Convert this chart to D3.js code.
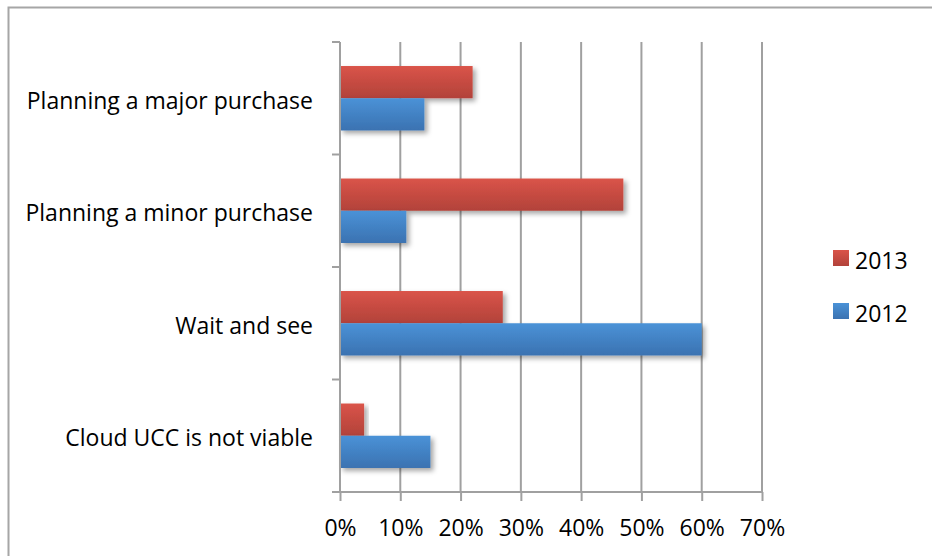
<!DOCTYPE html>
<html>
<head>
<meta charset="utf-8">
<script src="https://cdn.jsdelivr.net/npm/d3@7"></script>
<style>
  body { margin: 0; background: #fff; }
  svg text { font-family: "Open Sans", sans-serif; fill: #000; }
</style>
</head>
<body>
<div id="chart"></div>
<script>
const categories = ["Planning a major purchase", "Planning a minor purchase", "Wait and see", "Cloud UCC is not viable"];
const seriesNames = ["2013", "2012"];
const values2013 = [0.22, 0.47, 0.27, 0.04];
const values2012 = [0.14, 0.11, 0.60, 0.15];
const xTicks = [0, 0.1, 0.2, 0.3, 0.4, 0.5, 0.6, 0.7];

const W = 932, H = 556;
const plot = { left: 340, right: 762, top: 42, bottom: 492 };

const svg = d3.select("#chart").append("svg")
    .attr("width", W)
    .attr("height", H);

// outer frame
svg.append("rect")
    .attr("x", 8.5).attr("y", 7.5)
    .attr("width", W).attr("height", H)
    .attr("fill", "none")
    .attr("stroke", "#a6a6a6")
    .attr("stroke-width", 2);

const x = d3.scaleLinear().domain([0, 0.7]).range([plot.left, plot.right]);
const y = d3.scaleBand().domain(categories).range([plot.top, plot.bottom])
    .paddingInner(0.427).paddingOuter(0.2135);
const ySub = d3.scaleBand().domain(seriesNames).range([0, y.bandwidth()]);

const colors = {
    "2013": ["#da5449", "#b2423a"],
    "2012": ["#4a92d7", "#3b72b1"]
};

const defs = svg.append("defs");
seriesNames.forEach(s => {
    const g = defs.append("linearGradient")
        .attr("id", "grad" + s)
        .attr("x1", 0).attr("y1", 0).attr("x2", 0).attr("y2", 1);
    g.append("stop").attr("offset", 0).attr("stop-color", colors[s][0]);
    g.append("stop").attr("offset", 1).attr("stop-color", colors[s][1]);
});
defs.append("filter")
    .attr("id", "shadow")
    .attr("x", "-10%").attr("y", "-20%").attr("width", "130%").attr("height", "160%")
    .append("feDropShadow")
    .attr("dx", 3).attr("dy", 3)
    .attr("stdDeviation", 2.5)
    .attr("flood-color", "#000")
    .attr("flood-opacity", 0.35);

// gridlines
svg.append("g")
    .selectAll("line")
    .data(xTicks.slice(1))
    .join("line")
    .attr("x1", d => x(d)).attr("x2", d => x(d))
    .attr("y1", plot.top).attr("y2", plot.bottom)
    .attr("stroke", "#a0a0a0")
    .attr("stroke-width", 2);

// bars
const rows = categories.map((c, i) => ({ cat: c, vals: { "2013": values2013[i], "2012": values2012[i] } }));
const groups = svg.append("g")
    .selectAll("g")
    .data(rows)
    .join("g")
    .attr("transform", d => `translate(0,${y(d.cat)})`);

groups.selectAll("rect")
    .data(d => seriesNames.map(s => ({ s, v: d.vals[s] })))
    .join("rect")
    .attr("x", x(0))
    .attr("y", d => ySub(d.s))
    .attr("width", d => x(d.v) - x(0))
    .attr("height", ySub.bandwidth())
    .attr("fill", d => `url(#grad${d.s})`)
    .attr("filter", "url(#shadow)");

// bottom axis
const xAxis = svg.append("g")
    .attr("transform", `translate(0,${plot.bottom})`)
    .call(d3.axisBottom(x).tickValues(xTicks).tickFormat(d3.format(".0%")).tickSize(9).tickPadding(19));
xAxis.select(".domain").remove();
xAxis.append("line")
    .attr("x1", plot.left - 8).attr("x2", plot.right)
    .attr("stroke", "#a0a0a0").attr("stroke-width", 2);
xAxis.selectAll(".tick line").attr("stroke", "#a0a0a0").attr("stroke-width", 2);
xAxis.selectAll(".tick text").style("font-size", "23px").attr("fill", "#000");

// left axis
const yAxis = svg.append("g").attr("transform", `translate(${plot.left},0)`);
yAxis.append("line")
    .attr("y1", plot.top).attr("y2", plot.bottom)
    .attr("stroke", "#a0a0a0").attr("stroke-width", 2);
const bounds = categories.map(c => y(c) - y.step() * y.paddingInner() / 2);
yAxis.selectAll(".bt")
    .data(bounds)
    .join("line")
    .attr("x1", -8).attr("x2", 0)
    .attr("y1", d => d).attr("y2", d => d)
    .attr("stroke", "#a0a0a0").attr("stroke-width", 2);

yAxis.selectAll(".cat")
    .data(categories)
    .join("text")
    .attr("x", -27)
    .attr("y", d => y(d) + y.bandwidth() / 2 + 10.5)
    .attr("text-anchor", "end")
    .style("font-size", "23px")
    .text(d => d);

// legend
const legend = svg.append("g").attr("transform", "translate(833,250)");
const li = legend.selectAll("g")
    .data(seriesNames)
    .join("g")
    .attr("transform", (d, i) => `translate(0,${i * 53})`);
li.append("rect")
    .attr("width", 16).attr("height", 16)
    .attr("fill", d => `url(#grad${d})`);
li.append("text")
    .attr("x", 22).attr("y", 19)
    .style("font-size", "23px")
    .text(d => d);
</script>
</body>
</html>
